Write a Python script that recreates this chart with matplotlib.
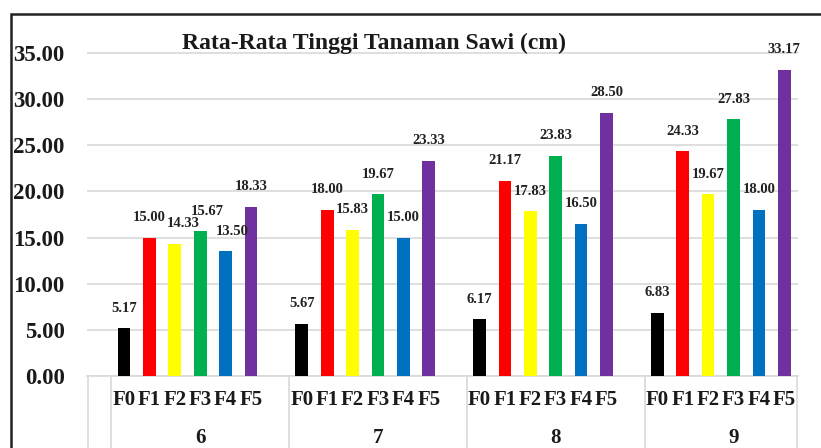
import matplotlib.pyplot as plt
from matplotlib.patches import Rectangle

# data
weeks = ['6', '7', '8', '9']
treatments = ['F0', 'F1', 'F2', 'F3', 'F4', 'F5']
colors = ['#000000', '#FF0000', '#FFFF00', '#00B050', '#0070C0', '#7030A0']
heights = [
    [5.17, 15.00, 14.33, 15.67, 13.50, 18.33],
    [5.67, 18.00, 15.83, 19.67, 15.00, 23.33],
    [6.17, 21.17, 17.83, 23.83, 16.50, 28.50],
    [6.83, 24.33, 19.67, 27.83, 18.00, 33.17],
]
yticks = [0, 5, 10, 15, 20, 25, 30, 35]

plt.rcParams['font.family'] = 'Liberation Serif'
plt.rcParams['font.weight'] = 'bold'

W, H = 821, 448
fig = plt.figure(figsize=(W / 100, H / 100), dpi=100)
ax = fig.add_axes([87 / W, (H - 376) / H, (798 - 87) / W, (376 - 39) / H])

# a few labels sit slightly right of their bar in the original
label_shift = {(0, 2): 8, (0, 3): 7, (0, 4): 7}

stride = 7
for g, vals in enumerate(heights):
    for i, v in enumerate(vals):
        x = g * stride + i
        ax.bar(x, v, width=0.5, color=colors[i], zorder=3)
        dx = label_shift.get((g, i), 0)
        ax.annotate(f'{v:.2f}', (x, v), xytext=(dx, 20), textcoords='offset pixels',
                    ha='center', va='center', fontsize=10.5, fontweight='bold',
                    color='#222222', zorder=4)

ax.set_xlim(-1.457, 26.54)
ax.set_ylim(0, 36.5)
ax.set_yticks(yticks)
ax.set_yticklabels([f'{t:.2f}' for t in yticks], fontsize=16.5, fontweight='bold', color='#1a1a1a')
ax.tick_params(axis='y', length=0, pad=16)
ax.set_xticks([])
for s in ax.spines.values():
    s.set_visible(False)
ax.grid(axis='y', color='#d9d9d9', linewidth=1.2, zorder=0)

# category table below the axis
xt = ax.get_xaxis_transform()
line_kw = dict(color='#d9d9d9', linewidth=1.2, transform=xt, clip_on=False)
ax.plot([-1.457, 26.54], [0, 0], **line_kw)
for xs in [-1.4, -0.5, 6.5, 13.5, 20.5, 26.5]:
    ax.plot([xs, xs], [0, -0.3], **line_kw)
for g, wk in enumerate(weeks):
    for i, t in enumerate(treatments):
        ax.text(g * stride + i, -0.0712, t, transform=xt, ha='center', va='center',
                fontsize=15, fontweight='bold', color='#1a1a1a')
    ax.text(g * stride + 3, -0.185, wk, transform=xt, ha='center', va='center',
            fontsize=15, fontweight='bold', color='#1a1a1a')

fig.text(374 / W, 1 - 43 / H, 'Rata-Rata Tinggi Tanaman Sawi (cm)', ha='center',
         va='center', fontsize=17, fontweight='bold', color='#1a1a1a')

# outer frame (right and bottom edges fall outside the picture)
fig.add_artist(Rectangle((11 / W, -0.1), 1.2, 1.1 - 14 / H, transform=fig.transFigure,
                         fill=False, edgecolor='#222222', linewidth=1.8, clip_on=False))

fig.savefig('out.png', dpi=100)
